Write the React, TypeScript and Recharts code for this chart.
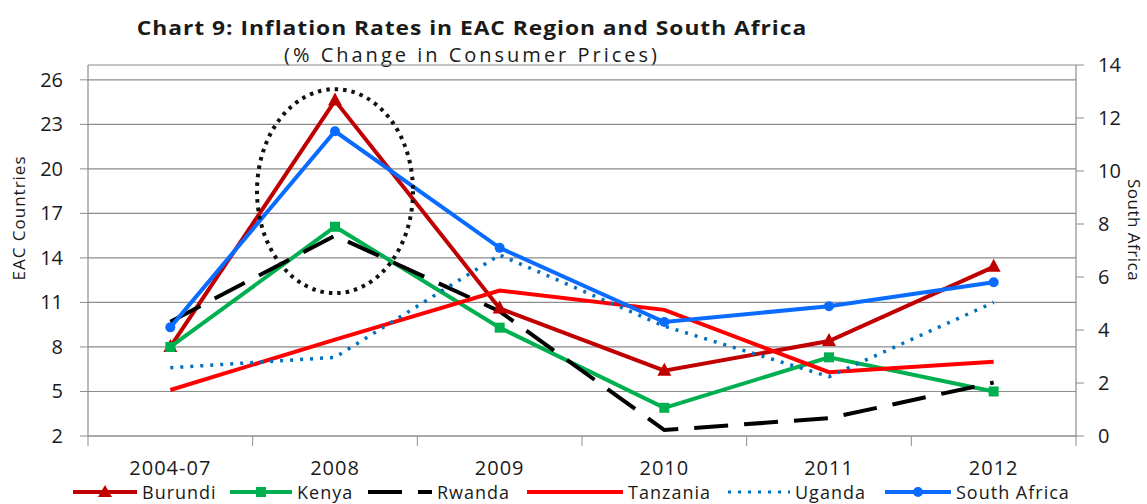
import React from 'react';
import {
    LineChart,
    Line,
    XAxis,
    YAxis,
    CartesianGrid,
    Legend,
    ReferenceDot,
} from 'recharts';

// categories and values
const categories = ['2004-07', '2008', '2009', '2010', '2011', '2012'];
const burundi = [8.0, 24.6, 10.6, 6.4, 8.4, 13.4];
const kenya = [8.0, 16.1, 9.3, 3.9, 7.3, 5.0];
const rwanda = [9.7, 15.5, 10.4, 2.4, 3.2, 5.6];
const tanzania = [5.1, 8.5, 11.8, 10.5, 6.3, 7.0];
const uganda = [6.6, 7.3, 14.2, 9.4, 6.0, 11.0];
const southAfrica = [4.1, 11.5, 7.1, 4.3, 4.9, 5.8];

const leftTicks = [2, 5, 8, 11, 14, 17, 20, 23, 26];
const rightTicks = [0, 2, 4, 6, 8, 10, 12, 14];

const FONT = '"Open Sans", sans-serif';
const GRID = '#8c8c8c';
const TEXT = '#1a1a1a';

const CHART_W = 1147;
const CHART_H = 504;
const PLOT_LEFT = 88;
const PLOT_RIGHT = 71;
const BAND = (CHART_W - PLOT_LEFT - PLOT_RIGHT) / categories.length;

const colors = {
    burundi: '#C00000',
    kenya: '#00B050',
    rwanda: '#000000',
    tanzania: '#FF0000',
    uganda: '#0070C0',
    southAfrica: '#0A6CFF',
};

const triangleDot = (color: string) => (props: any) => {
    const { cx, cy, index } = props;
    if (cx == null || cy == null) return <g key={index} />;
    return (
        <polygon
            key={index}
            points={`${cx},${cy - 8} ${cx - 7},${cy + 5} ${cx + 7},${cy + 5}`}
            fill={color}
        />
    );
};

const squareDot = (color: string) => (props: any) => {
    const { cx, cy, index } = props;
    if (cx == null || cy == null) return <g key={index} />;
    return <rect key={index} x={cx - 5} y={cy - 5} width={10} height={10} fill={color} />;
};

const XTick = (props: any) => {
    const { x, y, payload, index } = props;
    return (
        <g>
            <text
                x={x}
                y={y}
                dy={31}
                textAnchor="middle"
                fill={TEXT}
                style={{ fontSize: 20, letterSpacing: '1px', fontFamily: FONT }}
            >
                {payload.value}
            </text>
            {index === 0 && <line x1={x - BAND / 2} x2={x - BAND / 2} y1={y - 8} y2={y + 2} stroke={GRID} />}
            <line x1={x + BAND / 2} x2={x + BAND / 2} y1={y - 8} y2={y + 2} stroke={GRID} />
        </g>
    );
};

const LeftTick = (props: any) => {
    const { x, y, payload } = props;
    return (
        <text
            x={x}
            y={y}
            dy={7}
            textAnchor="end"
            fill={TEXT}
            style={{ fontSize: 20, fontFamily: FONT }}
        >
            {payload.value}
        </text>
    );
};

const RightTick = (props: any) => {
    const { x, y, payload } = props;
    return (
        <text
            x={x}
            y={y}
            dy={7}
            textAnchor="start"
            fill={TEXT}
            style={{ fontSize: 20, fontFamily: FONT }}
        >
            {payload.value}
        </text>
    );
};

const legendItems = [
    { name: 'Burundi', color: colors.burundi, left: 73, icon: 64, dash: undefined, marker: 'triangle', width: 4 },
    { name: 'Kenya', color: colors.kenya, left: 230, icon: 62, dash: undefined, marker: 'square', width: 4 },
    { name: 'Rwanda', color: colors.rwanda, left: 368, icon: 64, dash: '34 16', marker: null, width: 4 },
    { name: 'Tanzania', color: colors.tanzania, left: 527, icon: 96, dash: undefined, marker: null, width: 4 },
    { name: 'Uganda', color: colors.uganda, left: 728, icon: 62, dash: '3 7', marker: null, width: 3 },
    { name: 'South Africa', color: colors.southAfrica, left: 885, icon: 66, dash: undefined, marker: 'circle', width: 4 },
];

const LegendContent = () => (
    <div style={{ position: 'relative', width: CHART_W, height: 24 }}>
        {legendItems.map((it) => {
            const mid = it.icon / 2;
            return (
                <div
                    key={it.name}
                    style={{
                        position: 'absolute',
                        left: it.left,
                        top: 0,
                        display: 'flex',
                        alignItems: 'center',
                        height: 24,
                    }}
                >
                    <svg width={it.icon} height={16}>
                        <line
                            x1={0}
                            x2={it.icon}
                            y1={8}
                            y2={8}
                            stroke={it.color}
                            strokeWidth={it.width}
                            strokeDasharray={it.dash}
                        />
                        {it.marker === 'triangle' && (
                            <polygon points={`${mid},${1} ${mid - 7},${13} ${mid + 7},${13}`} fill={it.color} />
                        )}
                        {it.marker === 'square' && <rect x={mid - 5} y={3} width={10} height={10} fill={it.color} />}
                        {it.marker === 'circle' && <circle cx={mid} cy={8} r={5} fill={it.color} />}
                    </svg>
                    <span
                        style={{
                            marginLeft: 5,
                            fontSize: 18,
                            letterSpacing: '1px',
                            color: TEXT,
                            fontFamily: FONT,
                            lineHeight: '24px',
                        }}
                    >
                        {it.name}
                    </span>
                </div>
            );
        })}
    </div>
);

export default function App() {
    const data = categories.map((c, i) => ({
        cat: c,
        burundi: burundi[i],
        kenya: kenya[i],
        rwanda: rwanda[i],
        tanzania: tanzania[i],
        uganda: uganda[i],
        southAfrica: southAfrica[i],
    }));

    return (
        <div
            style={{
                position: 'relative',
                width: CHART_W,
                height: CHART_H,
                overflow: 'hidden',
                background: '#fff',
                fontFamily: FONT,
            }}
        >
            <style>{`body{margin:0}`}</style>
            <div
                style={{
                    position: 'absolute',
                    left: 0,
                    width: 944,
                    top: 14,
                    textAlign: 'center',
                    fontSize: 19,
                    fontWeight: 700,
                    lineHeight: '28px',
                    letterSpacing: '0.8px',
                    transform: 'scaleX(1.2)',
                    transformOrigin: '472px 0',
                    color: TEXT,
                }}
            >
                Chart 9: Inflation Rates in EAC Region and South Africa
            </div>
            <div
                style={{
                    position: 'absolute',
                    left: 0,
                    width: 944,
                    top: 41,
                    textAlign: 'center',
                    fontSize: 20,
                    lineHeight: '28px',
                    letterSpacing: '3px',
                    color: TEXT,
                }}
            >
                (% Change in Consumer Prices)
            </div>
            <div
                style={{
                    position: 'absolute',
                    left: 18,
                    top: 218,
                    transform: 'translate(-50%, -50%) rotate(-90deg)',
                    whiteSpace: 'nowrap',
                    fontSize: 17,
                    letterSpacing: '1px',
                    color: TEXT,
                }}
            >
                EAC Countries
            </div>
            <div
                style={{
                    position: 'absolute',
                    left: 1134,
                    top: 230,
                    transform: 'translate(-50%, -50%) rotate(90deg)',
                    whiteSpace: 'nowrap',
                    fontSize: 17,
                    letterSpacing: '0.5px',
                    color: TEXT,
                }}
            >
                South Africa
            </div>
            <LineChart
                width={CHART_W}
                height={CHART_H}
                data={data}
                margin={{ top: 65, right: 26, bottom: 0, left: 28 }}
                style={{ position: 'absolute', left: 0, top: 0 }}
            >
                <CartesianGrid yAxisId="left" vertical={false} stroke={GRID} strokeWidth={1.2} />
                <XAxis
                    dataKey="cat"
                    height={44}
                    padding={{ left: BAND / 2, right: BAND / 2 }}
                    tickLine={false}
                    axisLine={{ stroke: GRID, strokeWidth: 1.2 }}
                    tick={<XTick />}
                    interval={0}
                />
                <YAxis
                    yAxisId="left"
                    domain={[2, 27]}
                    ticks={leftTicks}
                    width={60}
                    tickSize={8}
                    tickMargin={17}
                    axisLine={{ stroke: GRID, strokeWidth: 1.2 }}
                    tickLine={{ stroke: GRID }}
                    tick={<LeftTick />}
                    interval={0}
                />
                <YAxis
                    yAxisId="right"
                    orientation="right"
                    domain={[0, 14]}
                    ticks={rightTicks}
                    width={45}
                    tickSize={8}
                    tickMargin={14}
                    axisLine={{ stroke: GRID, strokeWidth: 1.2 }}
                    tickLine={{ stroke: GRID }}
                    tick={<RightTick />}
                    interval={0}
                />
                <Legend
                    verticalAlign="bottom"
                    content={<LegendContent />}
                    wrapperStyle={{ left: 0, width: CHART_W, height: 24 }}
                />
                <Line
                    yAxisId="left"
                    type="linear"
                    dataKey="burundi"
                    name="Burundi"
                    stroke={colors.burundi}
                    strokeWidth={4}
                    dot={triangleDot(colors.burundi)}
                    isAnimationActive={false}
                />
                <Line
                    yAxisId="left"
                    type="linear"
                    dataKey="kenya"
                    name="Kenya"
                    stroke={colors.kenya}
                    strokeWidth={4}
                    dot={squareDot(colors.kenya)}
                    isAnimationActive={false}
                />
                <Line
                    yAxisId="left"
                    type="linear"
                    dataKey="rwanda"
                    name="Rwanda"
                    stroke={colors.rwanda}
                    strokeWidth={4}
                    strokeDasharray="34 16"
                    dot={false}
                    isAnimationActive={false}
                />
                <Line
                    yAxisId="left"
                    type="linear"
                    dataKey="tanzania"
                    name="Tanzania"
                    stroke={colors.tanzania}
                    strokeWidth={4}
                    dot={false}
                    isAnimationActive={false}
                />
                <Line
                    yAxisId="left"
                    type="linear"
                    dataKey="uganda"
                    name="Uganda"
                    stroke={colors.uganda}
                    strokeWidth={3.5}
                    strokeDasharray="3 7"
                    dot={false}
                    isAnimationActive={false}
                />
                <Line
                    yAxisId="right"
                    type="linear"
                    dataKey="southAfrica"
                    name="South Africa"
                    stroke={colors.southAfrica}
                    strokeWidth={4}
                    dot={{ r: 5, fill: colors.southAfrica, stroke: colors.southAfrica, strokeWidth: 0 }}
                    isAnimationActive={false}
                />
                <ReferenceDot
                    yAxisId="left"
                    x="2008"
                    y={18.5}
                    ifOverflow="visible"
                    shape={(p: any) => (
                        <ellipse
                            cx={p.cx}
                            cy={p.cy}
                            rx={78}
                            ry={102}
                            fill="none"
                            stroke="#111"
                            strokeWidth={4}
                            strokeDasharray="3.5 5"
                        />
                    )}
                />
            </LineChart>
        </div>
    );
}
